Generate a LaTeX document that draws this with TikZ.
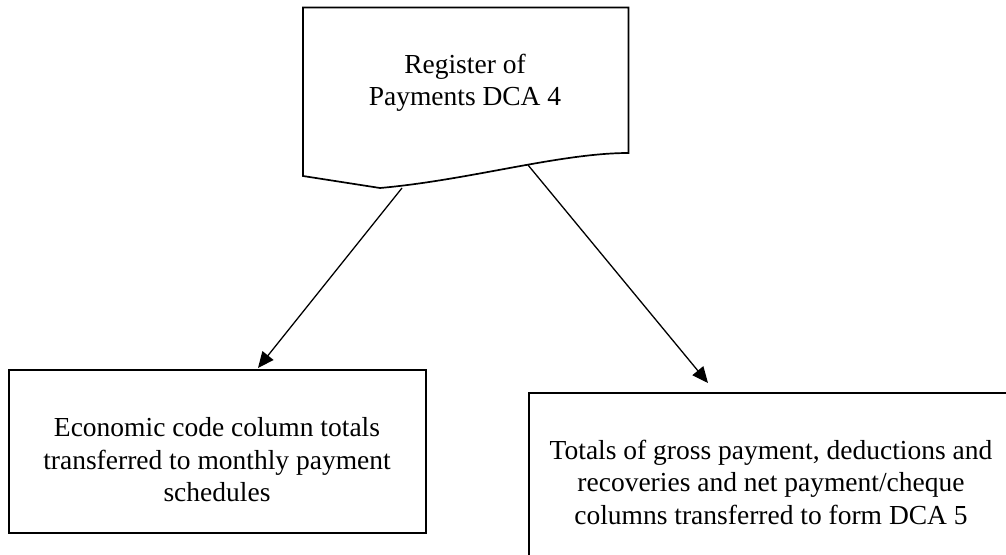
\documentclass[tikz,border=0pt]{standalone}
\usepackage{fontspec}
\setmainfont{Liberation Serif}
\usetikzlibrary{arrows.meta}
\begin{document}
\begin{tikzpicture}[x=1pt,y=-1pt,
  txt/.style={align=center,font=\fontsize{27.5}{32.5}\selectfont,inner sep=0pt},
  frame/.style={draw=black,line width=1.7pt},
  flow/.style={draw=black,line width=1.3pt,-{Triangle[length=16pt,width=14pt]}}]
\useasboundingbox (0,0) rectangle (1006,554);
\clip (0,0) rectangle (1006,554);
\fill[white] (0,0) rectangle (1006,554);

% Register document shape with wavy lower edge
\draw[frame,line join=miter] (303,7.5) -- (628.5,7.5) -- (628.5,153)
  .. controls (560,153) and (470,180) .. (380,188) -- (303,176) -- cycle;
\node[txt] (reg) at (465,83) {Register of\\Payments DCA 4};
\coordinate (regL) at (402,188);
\coordinate (regR) at (528,165);

% Outcome boxes
\node[frame,minimum width=417pt,minimum height=163pt,anchor=north west] (econ) at (8,369) {};
\node[txt] (econT) at (217,460) {Economic code column totals\\transferred to monthly payment\\schedules};

\node[frame,minimum width=490pt,minimum height=180pt,anchor=north west] (tot) at (528,392) {};
\node[txt] (totT) at (771,482) {Totals of gross payment, deductions and\\recoveries and net payment/cheque\\columns transferred to form DCA 5};
\coordinate (totIn) at (708,383);

% Connectors
\draw[flow] (regL) -- (258,368) coordinate (econIn);
\draw[flow] (regR) -- (totIn);
\end{tikzpicture}
\end{document}
